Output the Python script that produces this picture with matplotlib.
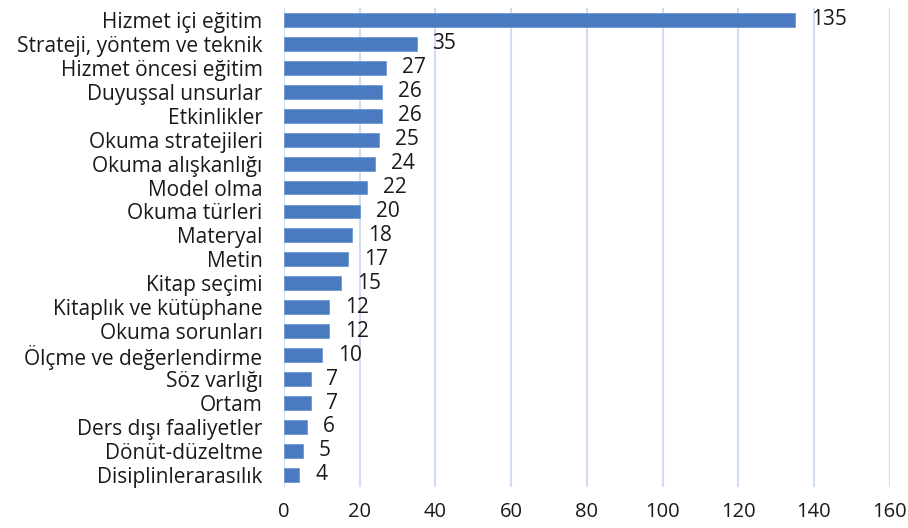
import matplotlib
matplotlib.use("Agg")
import matplotlib.pyplot as plt

categories = ["Hizmet içi eğitim", "Strateji, yöntem ve teknik", "Hizmet öncesi eğitim",
              "Duyuşsal unsurlar", "Etkinlikler", "Okuma stratejileri", "Okuma alışkanlığı",
              "Model olma", "Okuma türleri", "Materyal", "Metin", "Kitap seçimi",
              "Kitaplık ve kütüphane", "Okuma sorunları", "Ölçme ve değerlendirme",
              "Söz varlığı", "Ortam", "Ders dışı faaliyetler", "Dönüt-düzeltme",
              "Disiplinlerarasılık"]
values = [135, 35, 27, 26, 26, 25, 24, 22, 20, 18, 17, 15, 12, 12, 10, 7, 7, 6, 5, 4]
xticks = [0, 20, 40, 60, 80, 100, 120, 140, 160]

plt.rcParams["font.family"] = ["Open Sans", "DejaVu Sans"]

fig = plt.figure(figsize=(9.08, 5.28), dpi=100)
ax = fig.add_axes([0.3128, 0.078, 0.667, 0.907])

ypos = list(range(len(categories)))
ax.barh(ypos, values, height=0.58, color="#4a7abf", edgecolor="#7097d0", lw=0.6, zorder=3)
for y, v in zip(ypos, values):
    ax.text(v + 4.2, y, str(v), va="center", ha="left", fontsize=15, color="#1a1a1a")

ax.set_yticks(ypos)
ax.set_yticklabels(categories, fontsize=15, color="#1a1a1a")
ax.set_ylim(len(categories) - 0.5, -0.5)
ax.set_xlim(0, 160)
ax.set_xticks(xticks)
ax.set_xticklabels([str(t) for t in xticks], fontsize=14.5, color="#1a1a1a")
ax.tick_params(axis="x", length=0, pad=11)
ax.tick_params(axis="y", length=0, pad=15.5)
ax.grid(axis="x", color="#d0def0", lw=1.5, zorder=0)
for s in ax.spines.values():
    s.set_visible(False)

fig.savefig("out.png", dpi=100)
